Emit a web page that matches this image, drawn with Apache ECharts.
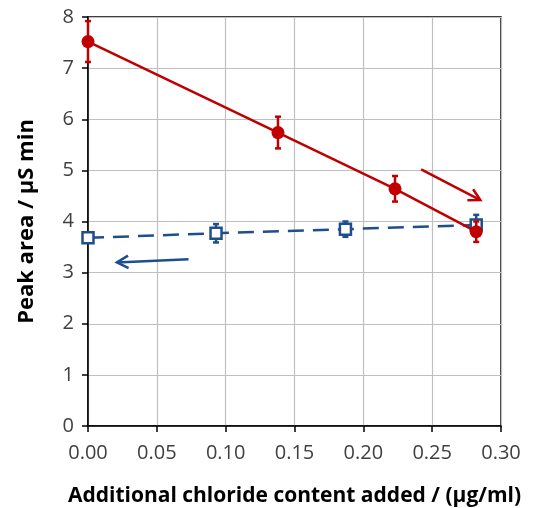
<!DOCTYPE html>
<html>
<head>
<meta charset="utf-8">
<script src="https://cdn.jsdelivr.net/npm/echarts@6/dist/echarts.min.js"></script>
<style>
html, body { margin: 0; padding: 0; background: #fff; }
#chart { width: 533px; height: 508px; }
</style>
</head>
<body>
<div id="chart"></div>
<script>
// red: filled circles, solid line
var redX = [0, 0.138, 0.223, 0.282];
var redY = [7.52, 5.74, 4.64, 3.80];
var redErr = [0.40, 0.31, 0.25, 0.20];
// blue: open squares, dashed line
var blueX = [0, 0.093, 0.187, 0.282];
var blueY = [3.68, 3.77, 3.85, 3.93];
var blueErr = [0.08, 0.18, 0.15, 0.20];
// annotation arrows [x0, y0, x1, y1]
var redArrow = [0.242, 5.02, 0.285, 4.42];
var blueArrow = [0.073, 3.26, 0.021, 3.20];

var fontFam = '"Open Sans", "Noto Sans", sans-serif';
var redC = '#c00000';
var blueC = '#1f4e8c';

function pairs(xs, ys) {
    return xs.map(function (x, i) { return [x, ys[i]]; });
}
function errData(xs, ys, es) {
    return xs.map(function (x, i) { return [x, ys[i] - es[i], ys[i] + es[i]]; });
}
function errBars(color, width) {
    return function (params, api) {
        var lo = api.coord([api.value(0), api.value(1)]);
        var hi = api.coord([api.value(0), api.value(2)]);
        var h = 3;
        var st = { stroke: color, lineWidth: width };
        return {
            type: 'group',
            children: [
                { type: 'line', shape: { x1: lo[0], y1: lo[1], x2: hi[0], y2: hi[1] }, style: st },
                { type: 'line', shape: { x1: lo[0] - h, y1: lo[1], x2: lo[0] + h, y2: lo[1] }, style: st },
                { type: 'line', shape: { x1: hi[0] - h, y1: hi[1], x2: hi[0] + h, y2: hi[1] }, style: st }
            ]
        };
    };
}
// open V-headed arrow
function arrowItem(color) {
    return function (params, api) {
        var p0 = api.coord([api.value(0), api.value(1)]);
        var p1 = api.coord([api.value(2), api.value(3)]);
        var ang = Math.atan2(p1[1] - p0[1], p1[0] - p0[0]);
        var len = 13, spread = 0.5;
        var a1 = [p1[0] - len * Math.cos(ang - spread), p1[1] - len * Math.sin(ang - spread)];
        var a2 = [p1[0] - len * Math.cos(ang + spread), p1[1] - len * Math.sin(ang + spread)];
        var st = { stroke: color, lineWidth: 2.5, fill: null };
        return {
            type: 'group',
            children: [
                { type: 'line', shape: { x1: p0[0], y1: p0[1], x2: p1[0], y2: p1[1] }, style: st },
                { type: 'polyline', shape: { points: [a1, p1, a2] }, style: st }
            ]
        };
    };
}

var myChart = echarts.init(document.getElementById('chart'));
var option = {
    animation: false,
    grid: {
        left: 88, right: 32, top: 17, bottom: 82,
        containLabel: false, outerBoundsMode: 'none',
        show: true, borderColor: '#000', borderWidth: 1.5
    },
    xAxis: {
        type: 'value', min: 0, max: 0.3, interval: 0.05,
        name: 'Additional chloride content added / (µg/ml)',
        nameLocation: 'middle', nameGap: 60,
        nameTextStyle: { fontFamily: fontFam, fontSize: 21, fontWeight: 'bold', color: '#000' },
        axisLine: { show: true, onZero: false, lineStyle: { color: '#000', width: 1.5 } },
        axisTick: { show: true, length: 6, lineStyle: { color: '#000', width: 1.5 } },
        axisLabel: {
            fontFamily: fontFam, fontSize: 20, color: '#404040', margin: 17,
            formatter: function (v) { return v.toFixed(2); }
        },
        splitLine: { show: true, lineStyle: { color: '#bfbfbf', width: 1.2 } }
    },
    yAxis: {
        type: 'value', min: 0, max: 8, interval: 1,
        name: 'Peak area / µS min',
        nameLocation: 'middle', nameGap: 50,
        nameTextStyle: { fontFamily: fontFam, fontSize: 22, fontWeight: 'bold', color: '#000' },
        axisLine: { show: true, onZero: false, lineStyle: { color: '#000', width: 1.5 } },
        axisTick: { show: true, length: 6, lineStyle: { color: '#000', width: 1.5 } },
        axisLabel: { fontFamily: fontFam, fontSize: 20, color: '#404040', margin: 14 },
        splitLine: { show: true, lineStyle: { color: '#bfbfbf', width: 1.2 } }
    },
    series: [
        {
            type: 'line',
            data: pairs(blueX, blueY),
            symbol: 'none',
            lineStyle: { color: blueC, width: 2.5, type: [16, 9] },
            z: 2
        },
        {
            type: 'custom',
            renderItem: errBars(blueC, 2.5),
            data: errData(blueX, blueY, blueErr),
            z: 3
        },
        {
            type: 'scatter',
            data: pairs(blueX, blueY),
            symbol: 'rect',
            symbolSize: 11,
            itemStyle: { color: '#fff', borderColor: blueC, borderWidth: 2.5, opacity: 1 },
            z: 4
        },
        {
            type: 'custom',
            renderItem: arrowItem(blueC),
            data: [blueArrow],
            z: 4
        },
        {
            type: 'line',
            data: pairs(redX, redY),
            symbol: 'none',
            lineStyle: { color: redC, width: 2.5 },
            z: 5
        },
        {
            type: 'custom',
            renderItem: errBars(redC, 2.5),
            data: errData(redX, redY, redErr),
            z: 6
        },
        {
            type: 'scatter',
            data: pairs(redX, redY),
            symbol: 'circle',
            symbolSize: 13,
            itemStyle: { color: redC, opacity: 1 },
            z: 7
        },
        {
            type: 'custom',
            renderItem: arrowItem(redC),
            data: [redArrow],
            z: 7
        }
    ]
};
myChart.setOption(option);
</script>
</body>
</html>
